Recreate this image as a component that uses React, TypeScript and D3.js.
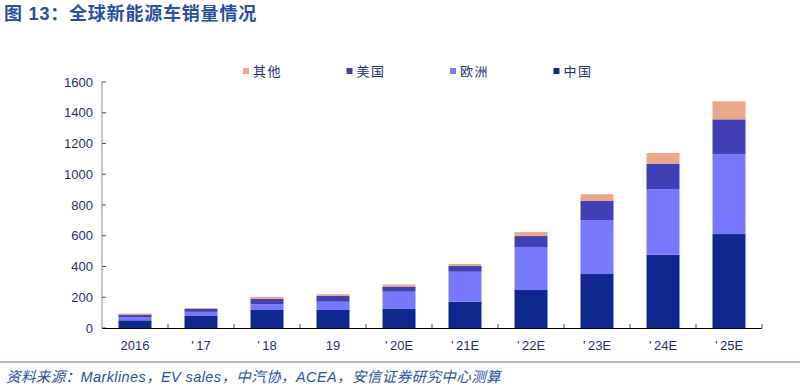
import React from 'react';
import * as d3 from 'd3';

const categories = ['2016', "'\u200917", "'\u200918", '19', "'\u200920E", "'\u200921E", "'\u200922E", "'\u200923E", "'\u200924E", "'\u200925E"];
const china = [50, 78, 117, 117, 124, 171, 247, 351, 477, 611];
const europe = [21, 27, 37, 54, 112, 195, 280, 351, 427, 521];
const usa = [16, 19, 35, 37, 33, 37, 71, 124, 165, 225];
const other = [7, 6, 13, 12, 13, 13, 26, 44, 69, 117];
const yTicks = [0, 200, 400, 600, 800, 1000, 1200, 1400, 1600];

const seriesKeys = ['china', 'europe', 'usa', 'other'];
const colors: Record<string, string> = {
  china: '#0f288f',
  europe: '#7878fc',
  usa: '#4040b4',
  other: '#eca688',
};
const legendItems = [
  { key: 'other', label: '其他' },
  { key: 'usa', label: '美国' },
  { key: 'europe', label: '欧洲' },
  { key: 'china', label: '中国' },
];

const W = 800;
const H = 392;
const left = 102;
const right = 762;
const top = 82;
const bottom = 328;
const textColor = '#1f2f6e';
const titleColor = '#2b4f9f';

const App = () => {
  const rows = categories.map((c, i) => ({
    cat: c,
    china: china[i],
    europe: europe[i],
    usa: usa[i],
    other: other[i],
  }));
  const stacked = d3.stack<any>().keys(seriesKeys)(rows);

  const x = d3.scaleBand().domain(categories).range([left, right]).paddingInner(0).paddingOuter(0);
  const y = d3.scaleLinear().domain([0, 1600]).range([bottom, top]);
  const barW = x.bandwidth() * 0.5;

  return (
    <svg width={W} height={H} style={{ position: 'absolute', left: 0, top: 0, background: '#fff' }}>
      <text x={4} y={20} fill={titleColor} fontSize={18} fontWeight="bold" letterSpacing={0.8}
        fontFamily="'Liberation Sans', 'Noto Sans CJK SC', sans-serif">
        图 13：全球新能源车销量情况
      </text>

      {/* legend */}
      {legendItems.map((d, i) => (
        <g key={d.key} transform={`translate(${243 + i * 103.5},0)`}>
          <rect x={0} y={68} width={6} height={6} fill={colors[d.key]} />
          <text x={10} y={76} fill={textColor} fontSize={13} letterSpacing={1.5}
            fontFamily="'Noto Sans CJK SC', sans-serif">{d.label}</text>
        </g>
      ))}

      {/* bars */}
      {stacked.map((s) => (
        <g key={s.key} fill={colors[s.key]}>
          {s.map((d, i) => (
            <rect key={i}
              x={(x(categories[i]) as number) + (x.bandwidth() - barW) / 2}
              y={y(d[1])}
              width={barW}
              height={y(d[0]) - y(d[1])} />
          ))}
        </g>
      ))}

      {/* y axis */}
      <line x1={left} x2={left} y1={top} y2={bottom} stroke="#8a8a8a" strokeWidth={1} />
      {yTicks.map((t) => (
        <g key={t}>
          <line x1={left} x2={left + 4} y1={y(t)} y2={y(t)} stroke="#555" />
          <text x={93} y={y(t) + 4.5} textAnchor="end" fill={textColor} fontSize={13}
            fontFamily="'Liberation Sans', sans-serif">{t}</text>
        </g>
      ))}

      {/* x axis */}
      <line x1={left} x2={right} y1={bottom + 0.5} y2={bottom + 0.5} stroke="#000" strokeWidth={1} />
      {categories.map((c, i) => (
        <g key={c}>
          <line x1={(x(c) as number) + x.bandwidth()} x2={(x(c) as number) + x.bandwidth()}
            y1={bottom} y2={bottom - 4} stroke="#555" />
          <text x={(x(c) as number) + x.bandwidth() / 2} y={350} textAnchor="middle"
            fill={textColor} fontSize={13} fontFamily="'Liberation Sans', sans-serif">{c}</text>
        </g>
      ))}

      {/* footer */}
      <line x1={0} x2={W} y1={362} y2={362} stroke="#5a78b8" strokeWidth={1.2} />
      <text x={6} y={382} fill={titleColor} fontSize={14.5} fontStyle="italic" letterSpacing={0.4}
        fontFamily="'Liberation Sans', 'Noto Sans CJK SC', sans-serif">
        资料来源：Marklines，EV sales，中汽协，ACEA，安信证券研究中心测算
      </text>
    </svg>
  );
};

export default App;
